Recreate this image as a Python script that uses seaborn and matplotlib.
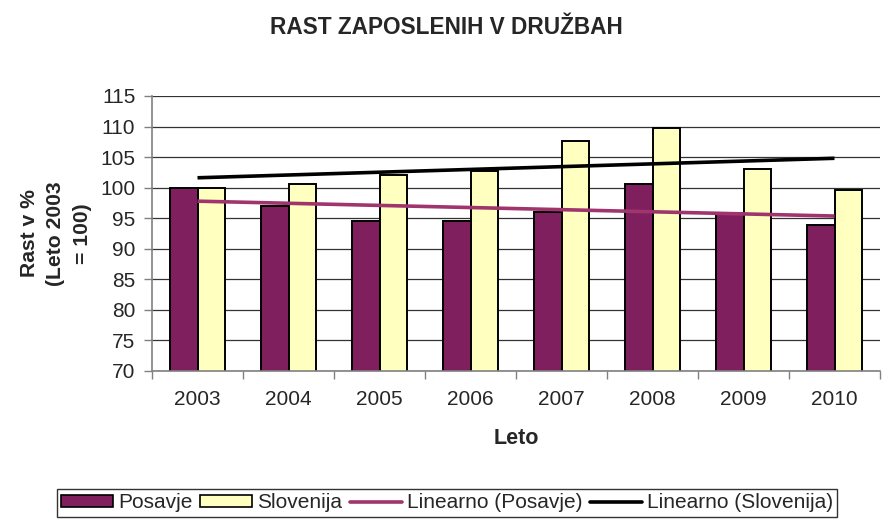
import numpy as np
import pandas as pd
import matplotlib
matplotlib.use("Agg")
import matplotlib.pyplot as plt
import seaborn as sns
from matplotlib.patches import Patch
from matplotlib.lines import Line2D
from matplotlib.ticker import FixedLocator

years = ["2003", "2004", "2005", "2006", "2007", "2008", "2009", "2010"]
posavje = [100.0, 97.0, 94.6, 94.6, 96.1, 100.6, 95.8, 93.9]
slovenija = [100.0, 100.6, 102.1, 102.8, 107.6, 109.8, 103.1, 99.7]
series_names = ["Posavje", "Slovenija"]

sns.set_theme(style="white")
plt.rcParams['font.family'] = ['Liberation Sans', 'DejaVu Sans']

df = pd.DataFrame({
    "Leto": years * 2,
    "val": posavje + slovenija,
    "serija": [series_names[0]] * len(years) + [series_names[1]] * len(years),
})

c_pos = "#7F1F5E"
c_slo = "#FFFFC0"
c_pos_trend = "#A0356E"

fig = plt.figure(figsize=(8.92, 5.2), dpi=100)
ax = fig.add_axes([152/892, 1 - 371/520, 728/892, 275/520])

sns.barplot(data=df, x="Leto", y="val", hue="serija", palette=[c_pos, c_slo],
            width=0.6, edgecolor="black", linewidth=1.4, ax=ax, legend=False,
            gap=0, saturation=1)

xs = np.arange(len(years))
for vals, col in [(posavje, c_pos_trend), (slovenija, "black")]:
    k, b = np.polyfit(xs, vals, 1)
    ax.plot(xs, k * xs + b, color=col, lw=2.6, solid_capstyle="butt", zorder=5)

ax.set_ylim(70, 115)
ax.set_xlim(-0.5, len(years) - 0.5)
ax.set_yticks(np.arange(70, 116, 5))
ax.yaxis.grid(True, color="#333333", lw=0.9)
ax.set_axisbelow(True)
for s in ["top", "right"]:
    ax.spines[s].set_visible(False)
for s in ["left", "bottom"]:
    ax.spines[s].set_color("#808080")
    ax.spines[s].set_linewidth(1.2)

ax.tick_params(axis="y", which="major", left=True, length=6, width=1, color="#808080",
               labelsize=15, pad=6)
ax.tick_params(axis="x", which="major", bottom=False, labelsize=15, pad=8)
ax.xaxis.set_minor_locator(FixedLocator(np.arange(-0.5, len(years), 1.0)))
ax.tick_params(axis="x", which="minor", bottom=True, length=6, width=1, color="#808080")

ax.set_xlabel("Leto", fontsize=15.5, fontweight="bold", labelpad=13)
ax.set_ylabel("Rast v %\n(Leto 2003\n= 100)", fontsize=15.2, fontweight="bold", labelpad=6,
              linespacing=1.5)

fig.text(0.5, 1 - 28/520, "RAST ZAPOSLENIH V DRUŽBAH", ha="center", va="center",
         fontsize=16.3, fontweight="bold")

handles = [
    Patch(facecolor=c_pos, edgecolor="black", lw=1.2, label="Posavje"),
    Patch(facecolor=c_slo, edgecolor="black", lw=1.2, label="Slovenija"),
    Line2D([0], [0], color=c_pos_trend, lw=2.6, label="Linearno (Posavje)"),
    Line2D([0], [0], color="black", lw=2.6, label="Linearno (Slovenija)"),
]
leg = fig.legend(handles=handles, loc="center", bbox_to_anchor=(447/892, 1 - 503/520),
                 ncol=4, frameon=True, fancybox=False, fontsize=15,
                 handlelength=2.5, handleheight=0.55, handletextpad=0.25,
                 columnspacing=0.35, borderpad=0.2, borderaxespad=0)
leg.get_frame().set_edgecolor("black")
leg.get_frame().set_linewidth(1.0)

fig.savefig("out.png", dpi=100)
